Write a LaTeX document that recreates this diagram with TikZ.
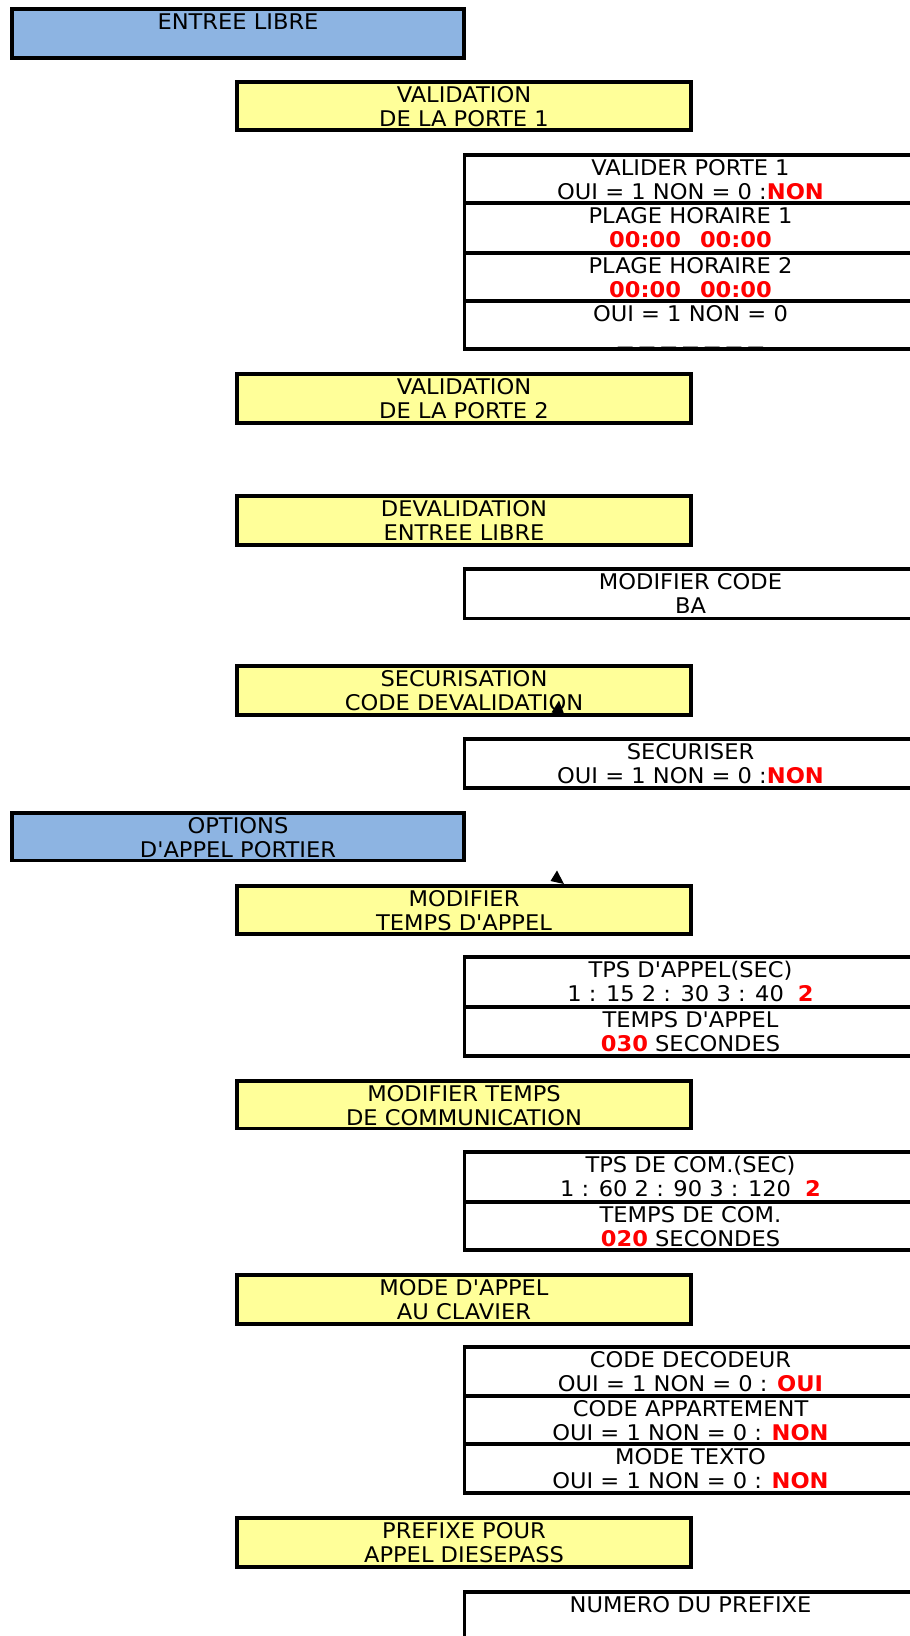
\documentclass[tikz,border=0pt]{standalone}
\usepackage{fontspec}
\setmainfont{DejaVu Sans}[Ligatures=TeXOff, FakeStretch=1.045]
\definecolor{bluefill}{RGB}{141,180,226}
\definecolor{yellowfill}{RGB}{255,255,153}
\definecolor{redtxt}{RGB}{255,0,0}
\newcommand\rv[1]{\textcolor{redtxt}{\bfseries #1}}
\newcommand\dsh{\scalebox{1.27}[1]{\_}}
\newcommand\twolines[3]{%
  \node[txt] (#1-a) at ([yshift=-20.3pt]#1.north) {#2};
  \node[txt] (#1-b) at ([yshift=-44.3pt]#1.north) {#3};}
\newcommand\oneline[2]{%
  \node[txt] (#1-a) at ([yshift=-20.3pt]#1.north) {#2};}
\tikzset{
  frame/.style={rectangle, draw=black, line width=3.9pt, outer sep=0pt, inner sep=0pt, anchor=north west},
  bluebox/.style={frame, fill=bluefill, minimum width=452pt, minimum height=#1},
  yellowbox/.style={frame, fill=yellowfill, minimum width=454pt, minimum height=#1},
  whitebox/.style={frame, fill=white, minimum width=452pt, minimum height=#1},
  txt/.style={font=\fontsize{21.6pt}{24pt}\selectfont, inner sep=0pt, outer sep=0pt, anchor=base, text=black},
  tip/.style={fill=black}
}
\begin{document}
\begin{tikzpicture}[x=1pt,y=-1pt]
\clip (0,0) rectangle (910,1636);
\fill[white] (0,0) rectangle (910,1636);

% ---------- ENTREE LIBRE ----------
\node[bluebox=49.3pt] (entree) at (12,8.7) {};
\node[txt] (entree-a) at ([yshift=-20.6pt]entree.north) {ENTREE LIBRE};

\node[yellowbox=47.7pt] (val1) at (237,82) {};
\twolines{val1}{VALIDATION}{DE LA PORTE 1}

\node[whitebox=47.7pt] (vp1) at (464.5,155) {};
\twolines{vp1}{VALIDER PORTE 1}{OUI = 1 NON = 0 :\rv{NON}}
\node[whitebox=50pt] (ph1) at (464.5,202.7) {};
\twolines{ph1}{PLAGE HORAIRE 1}{\rv{00:00\hspace{19pt}00:00}}
\node[whitebox=48.3pt] (ph2) at (464.5,252.7) {};
\twolines{ph2}{PLAGE HORAIRE 2}{\rv{00:00\hspace{19pt}00:00}}
\node[whitebox=48pt] (on1) at (464.5,301) {};
\twolines{on1}{OUI = 1 NON = 0}{\raisebox{1.8pt}{\dsh\hspace{7.4pt}\dsh\hspace{7.4pt}\dsh\hspace{7.4pt}\dsh\hspace{7.4pt}\dsh\hspace{7.4pt}\dsh\hspace{7.4pt}\dsh}}
\draw[line width=3.9pt] (on1.south west) -- (on1.south east);

\node[yellowbox=49pt] (val2) at (237,374) {};
\twolines{val2}{VALIDATION}{DE LA PORTE 2}

\node[yellowbox=49pt] (deval) at (237,496) {};
\twolines{deval}{DEVALIDATION}{ENTREE LIBRE}

\node[whitebox=49.5pt] (modcode) at (464.5,569) {};
\twolines{modcode}{MODIFIER CODE}{BA}

\node[yellowbox=49pt] (secu) at (237,666) {};
\twolines{secu}{SECURISATION}{CODE DEVALIDATION}

\node[whitebox=48.7pt] (securiser) at (464.5,739) {};
\twolines{securiser}{SECURISER}{OUI = 1 NON = 0 :\rv{NON}}

% ---------- OPTIONS D'APPEL PORTIER ----------
\node[bluebox=47.5pt] (options) at (12,813) {};
\twolines{options}{OPTIONS}{D'APPEL PORTIER}

\node[yellowbox=48.5pt] (tpsappel) at (237,885.7) {};
\twolines{tpsappel}{MODIFIER}{TEMPS D'APPEL}

\node[whitebox=49.7pt] (tpsa1) at (464.5,957) {};
\twolines{tpsa1}{TPS D'APPEL(SEC)}{1 : 15 2 : 30 3 : 40\hspace{14pt}\rv{2}}
\node[whitebox=49pt] (tpsa2) at (464.5,1006.7) {};
\twolines{tpsa2}{TEMPS D'APPEL}{\rv{030} SECONDES}

\node[yellowbox=47.5pt] (tpscom) at (237,1081) {};
\twolines{tpscom}{MODIFIER TEMPS}{DE COMMUNICATION}

\node[whitebox=49.7pt] (tpsc1) at (464.5,1152) {};
\twolines{tpsc1}{TPS DE COM.(SEC)}{1 : 60 2 : 90 3 : 120\hspace{14pt}\rv{2}}
\node[whitebox=48.3pt] (tpsc2) at (464.5,1201.7) {};
\twolines{tpsc2}{TEMPS DE COM.}{\rv{020} SECONDES}

\node[yellowbox=49pt] (clavier) at (237,1275) {};
\twolines{clavier}{MODE D'APPEL}{AU CLAVIER}

\node[whitebox=48.4pt] (cdec) at (464.5,1347.3) {};
\twolines{cdec}{CODE DECODEUR}{OUI = 1 NON = 0 : \rv{OUI}}
\node[whitebox=48.6pt] (capp) at (464.5,1395.7) {};
\twolines{capp}{CODE APPARTEMENT}{OUI = 1 NON = 0 : \rv{NON}}
\node[whitebox=49pt] (mtexto) at (464.5,1444.3) {};
\twolines{mtexto}{MODE TEXTO}{OUI = 1 NON = 0 : \rv{NON}}

\node[yellowbox=48.4pt] (prefixe) at (237,1518.3) {};
\twolines{prefixe}{PREFIXE POUR}{APPEL DIESEPASS}

\node[whitebox=60pt] (numero) at (464.5,1591.7) {};
\oneline{numero}{NUMERO DU PREFIXE}

% stray arrow tips
\fill[tip] (551.5,712.5) -- (564.5,715) -- (559,700.5) -- cycle;
\fill[tip] (550.5,881) -- (564,884) -- (557,870.5) -- cycle;
\end{tikzpicture}
\end{document}
